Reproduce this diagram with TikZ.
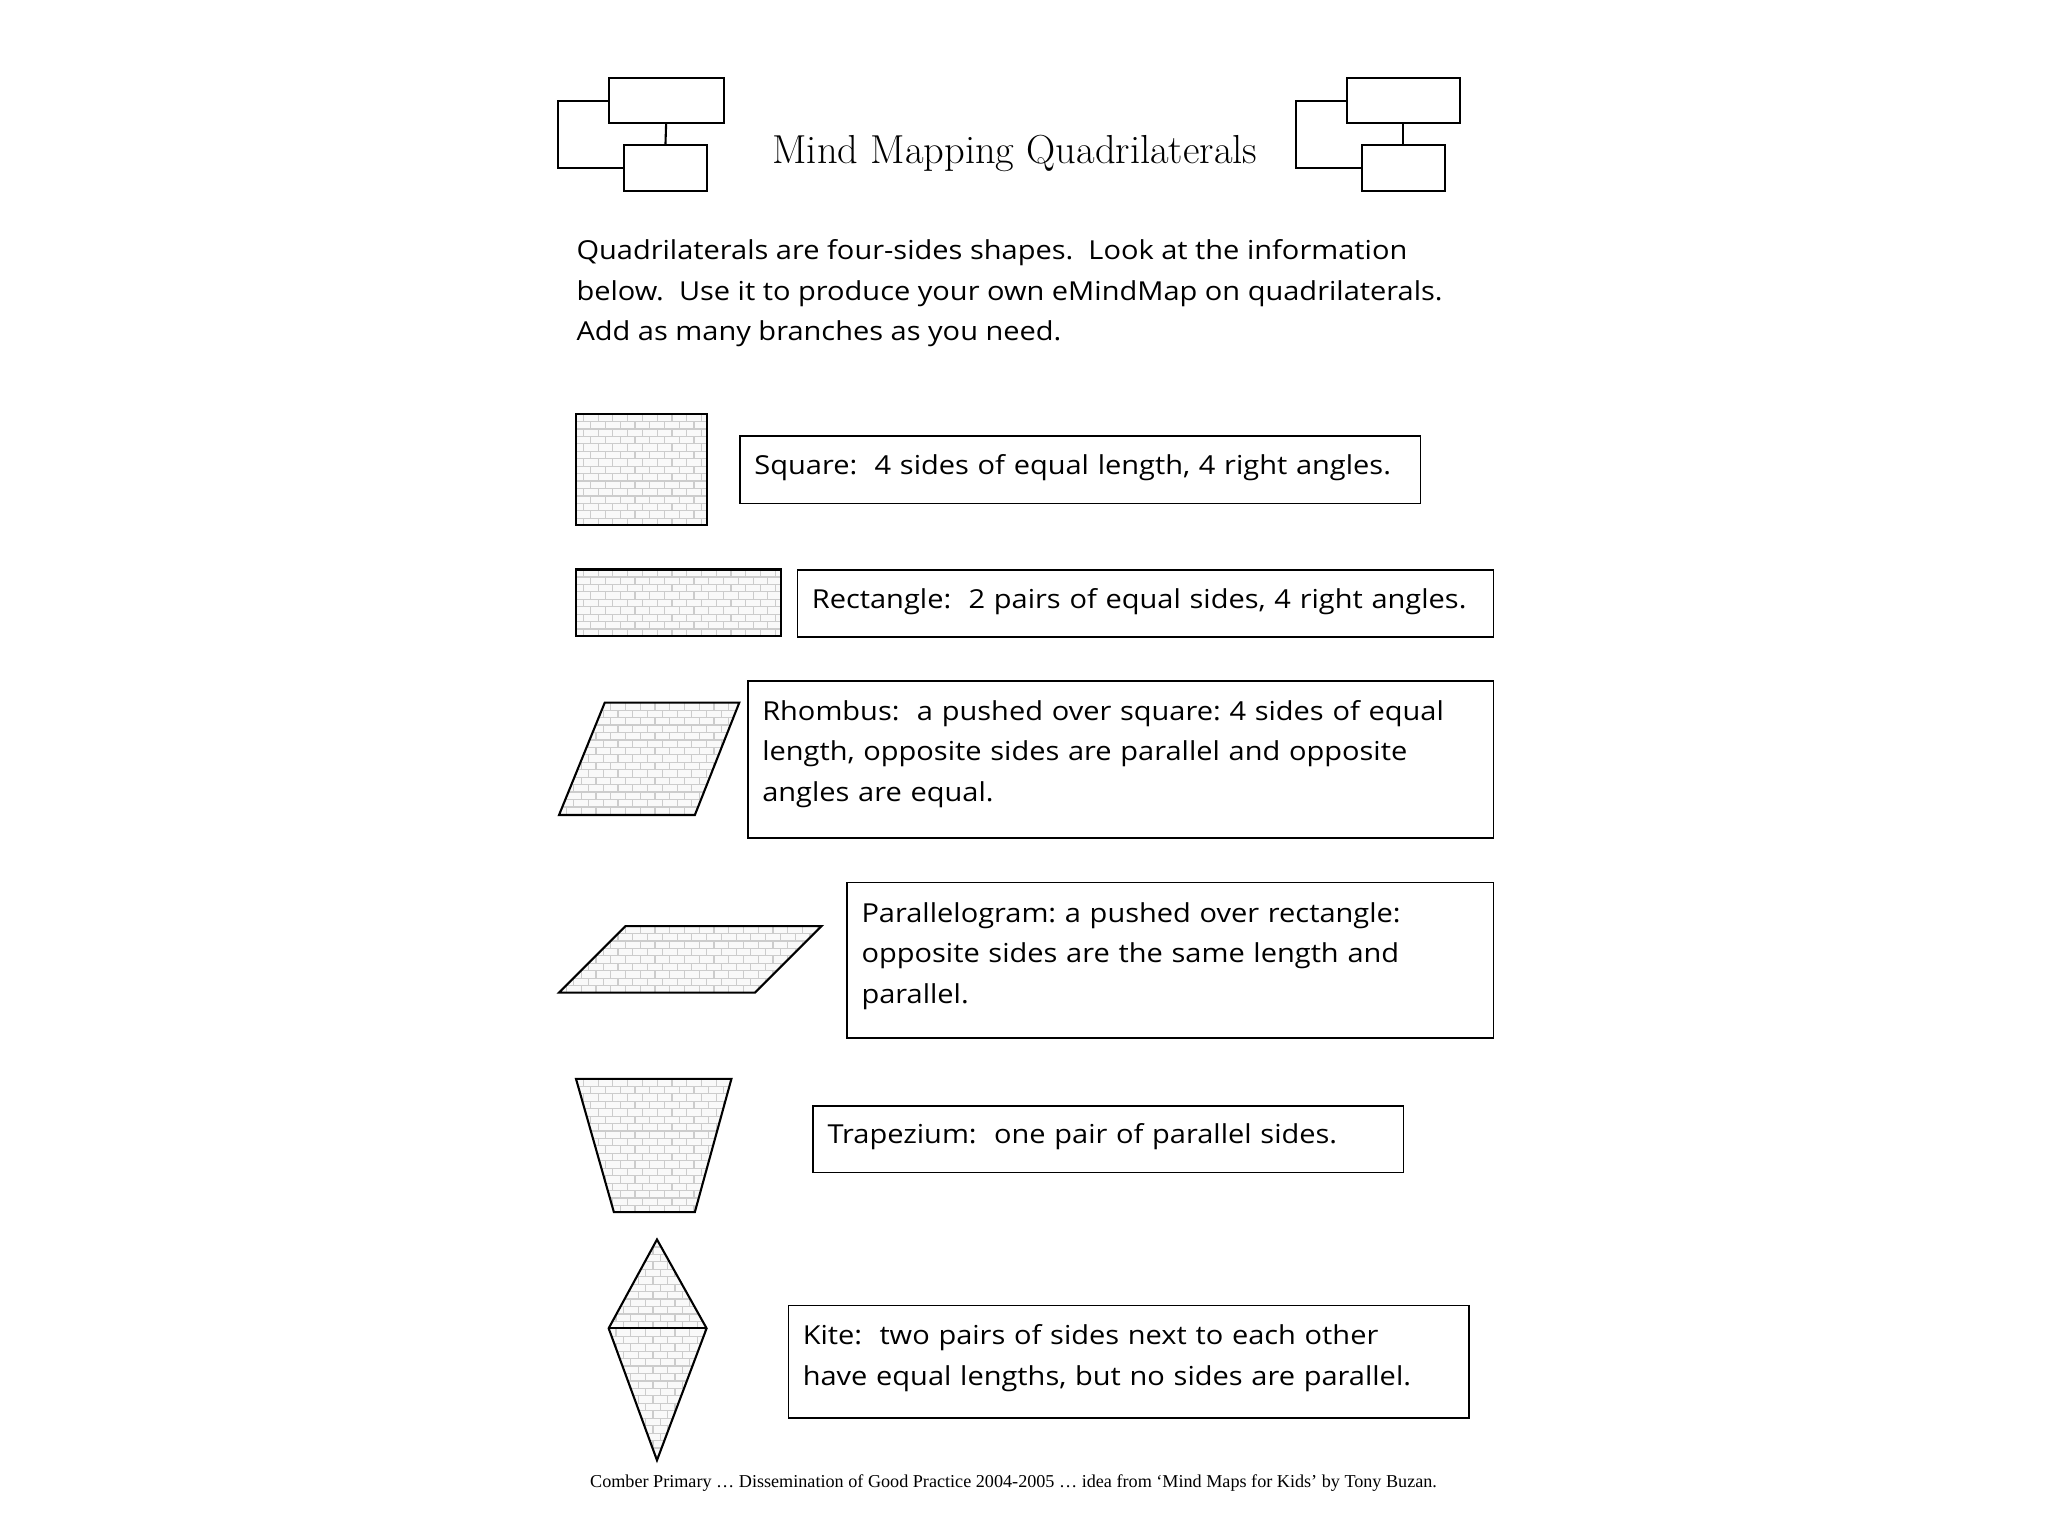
\documentclass[tikz,border=0pt]{standalone}
\usepackage{fontspec}
\newfontfamily\bodyfont[FakeStretch=1.11]{Open Sans}
\newfontfamily\footfont{Liberation Serif}
\usetikzlibrary{fit}
\tikzset{
  iconbox/.style={draw=black, line width=0.8pt, inner sep=0pt},
  iconline/.style={draw=black, line width=0.8pt},
  infobox/.style={draw=black, line width=0.6pt, anchor=north west, align=left,
    inner xsep=5.5pt, inner ysep=0pt, text height=7.6pt,
    font=\bodyfont\frenchspacing\fontsize{10}{15.5}\selectfont},
  introtext/.style={anchor=base west, inner sep=0pt, font=\bodyfont\frenchspacing\fontsize{10}{15.5}\selectfont},
  brickbg/.style={fill=gray!5},
  mortar/.style={draw=gray!40, line width=0.45pt},
  shapeedge/.style={draw=black, line width=0.8pt, line join=miter},
}
\newcommand\brickshape[5]{%
  \begin{scope}
    \clip #1;
    \fill[brickbg] (#2,#3) rectangle (#4,#5);
    \pgfmathtruncatemacro\nrows{(#5-#3)/5.7+1}
    \pgfmathtruncatemacro\ncols{(#4-#2)/11.3+1}
    \foreach \r in {1,...,\nrows} {
      \pgfmathsetmacro\yy{#3+\r*5.7}
      \pgfmathsetmacro\off{mod(\r,2)*5.65}
      \draw[mortar] (#2,\yy) -- (#4,\yy);
      \foreach \c in {-1,...,\ncols} {
        \draw[mortar] ({#2+\off+\c*11.3},\yy) -- ++(0,-5.7);
      }
    }
  \end{scope}
  \draw[shapeedge] #1;
}
\begin{document}
\begin{tikzpicture}[x=0.5pt,y=-0.5pt]
\useasboundingbox (0,0) rectangle (1568,1176);
\fill[white] (0,0) rectangle (1568,1176);

% left icon
\node[iconbox, fit={(466,60) (554,94)}] (li1) {};
\node[iconbox, fit={(478,111) (541,146)}] (li2) {};
\draw[iconline] (li1.south) -- (li2.north);
\draw[iconline] (li1.west) -- ++(-38,0) |- (li2.west);
% right icon
\node[iconbox, fit={(1031,60) (1118,94)}] (ri1) {};
\node[iconbox, fit={(1043,111) (1106,146)}] (ri2) {};
\draw[iconline] (ri1.south) -- (ri2.north);
\draw[iconline] (ri1.west) -- ++(-38,0) |- (ri2.west);

% title
\node[anchor=base, inner sep=0pt, font=\rmfamily\fontsize{15.5}{18}\selectfont] (title) at (777,125) {Mind Mapping Quadrilaterals};

% intro
\node[introtext] (intro1) at (441,199) {Quadrilaterals are four-sides shapes.\ \ Look at the information};
\node[introtext] (intro2) at (441,230) {below.\ \ Use it to produce your own eMindMap on quadrilaterals.};
\node[introtext] (intro3) at (441,261) {Add as many branches as you need.};

% shapes
\brickshape{(441,317) rectangle (541,402)}{441}{317}{541}{402}
\brickshape{(441,436) rectangle (598,487)}{441}{436}{598}{487}
\brickshape{(463,538) -- (566,538) -- (532,624) -- (428,624) -- cycle}{428}{538}{566}{624}
\brickshape{(479,709) -- (629,709) -- (578,760) -- (428,760) -- cycle}{428}{709}{629}{760}
\brickshape{(441,826) -- (560,826) -- (532,928) -- (470,928) -- cycle}{441}{826}{560}{928}
\brickshape{(503,949) -- (541,1017) -- (503,1118) -- (466,1017) -- cycle}{466}{949}{541}{1118}
\draw[shapeedge] (466,1017) -- (541,1017);

% text boxes
\node[infobox, text width=249.5pt, minimum height=26pt, text depth=3.6pt] (sq) at (566,333)
  {Square:\ \ 4 sides of equal length, 4 right angles.};
\node[infobox, text width=255.5pt, minimum height=25.5pt, text depth=4.1pt] (re) at (610,436)
  {Rectangle:\ \ 2 pairs of equal sides, 4 right angles.};
\node[infobox, text width=274.5pt, minimum height=60pt, text depth=37.6pt] (rh) at (572,521)
  {Rhombus:\ \ a pushed over square: 4 sides of equal\\length, opposite sides are parallel and opposite\\angles are equal.};
\node[infobox, text width=236.5pt, minimum height=59.5pt, text depth=36.6pt] (pa) at (648,675)
  {Parallelogram: a pushed over rectangle:\\opposite sides are the same length and\\parallel.};
\node[infobox, text width=215pt, minimum height=25.5pt, text depth=4.1pt] (tr) at (622,846)
  {Trapezium:\ \ one pair of parallel sides.};
\node[infobox, text width=249.5pt, minimum height=43pt, text depth=20.6pt] (ki) at (603,999)
  {Kite:\ \ two pairs of sides next to each other\\have equal lengths, but no sides are parallel.};

% footer
\node[anchor=base, inner sep=0pt, font=\footfont\fontsize{6.95}{8}\selectfont] (foot) at (776,1139)
  {Comber Primary … Dissemination of Good Practice 2004-2005 … idea from ‘Mind Maps for Kids’ by Tony Buzan.};
\end{tikzpicture}
\end{document}
